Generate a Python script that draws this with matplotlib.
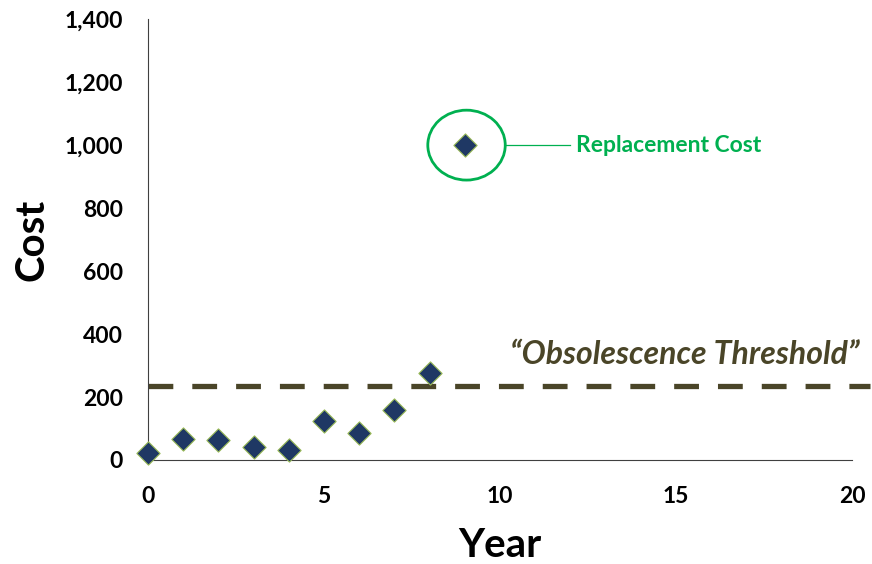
import matplotlib.pyplot as plt
from matplotlib.patches import Ellipse

years = [0, 1, 2, 3, 4, 5, 6, 7, 8, 9]
costs = [22, 67, 63, 41, 32, 124, 86, 159, 276, 1000]
threshold = 235
x_ticks = [0, 5, 10, 15, 20]
y_ticks = [0, 200, 400, 600, 800, 1000, 1200, 1400]

plt.rcParams['font.family'] = ['Lato', 'DejaVu Sans']

fig = plt.figure(figsize=(8.72, 5.64), dpi=100)
ax = fig.add_axes([0.1697, 0.1844, 0.8073, 0.7816])

ax.plot([0, 20.5], [threshold, threshold], color='#4a4528', lw=3.8,
        dashes=(4.7, 3.6), clip_on=False, zorder=2)
ax.scatter(years, costs, marker='D', s=140, color='#1f3864',
           edgecolors='#9bbb59', linewidths=0.8, zorder=3, clip_on=False)

ax.add_patch(Ellipse((9.05, 1000), 2.2, 222, fill=False, edgecolor='#00b050',
                     lw=2, zorder=4))
ax.plot([10.15, 12.0], [1000, 1000], color='#00b050', lw=0.9)
ax.text(12.15, 1000, 'Replacement Cost', color='#00b050', fontsize=16.5,
        fontweight='bold', va='center', ha='left')
ax.text(15.25, 335, '\u201cObsolescence Threshold\u201d', color='#4a4528',
        fontsize=23, fontweight='bold', style='italic', ha='center', va='center')

ax.set_xlim(0, 20)
ax.set_ylim(0, 1400)
ax.set_xticks(x_ticks)
ax.set_yticks(y_ticks)
ax.set_xticklabels([str(v) for v in x_ticks], fontsize=16.5, fontweight='bold')
ax.set_yticklabels([f'{v:,}' for v in y_ticks], fontsize=16.5, fontweight='bold')
ax.tick_params(axis='y', length=0, pad=18)
ax.tick_params(axis='x', length=0, pad=19)
ax.spines['top'].set_visible(False)
ax.spines['right'].set_visible(False)
ax.spines['left'].set_color('#404040')
ax.spines['bottom'].set_color('#404040')
ax.set_xlabel('Year', fontsize=29, fontweight='bold', labelpad=14)
ax.set_ylabel('Cost', fontsize=29, fontweight='bold', labelpad=10)

fig.savefig('out.png', dpi=100)
